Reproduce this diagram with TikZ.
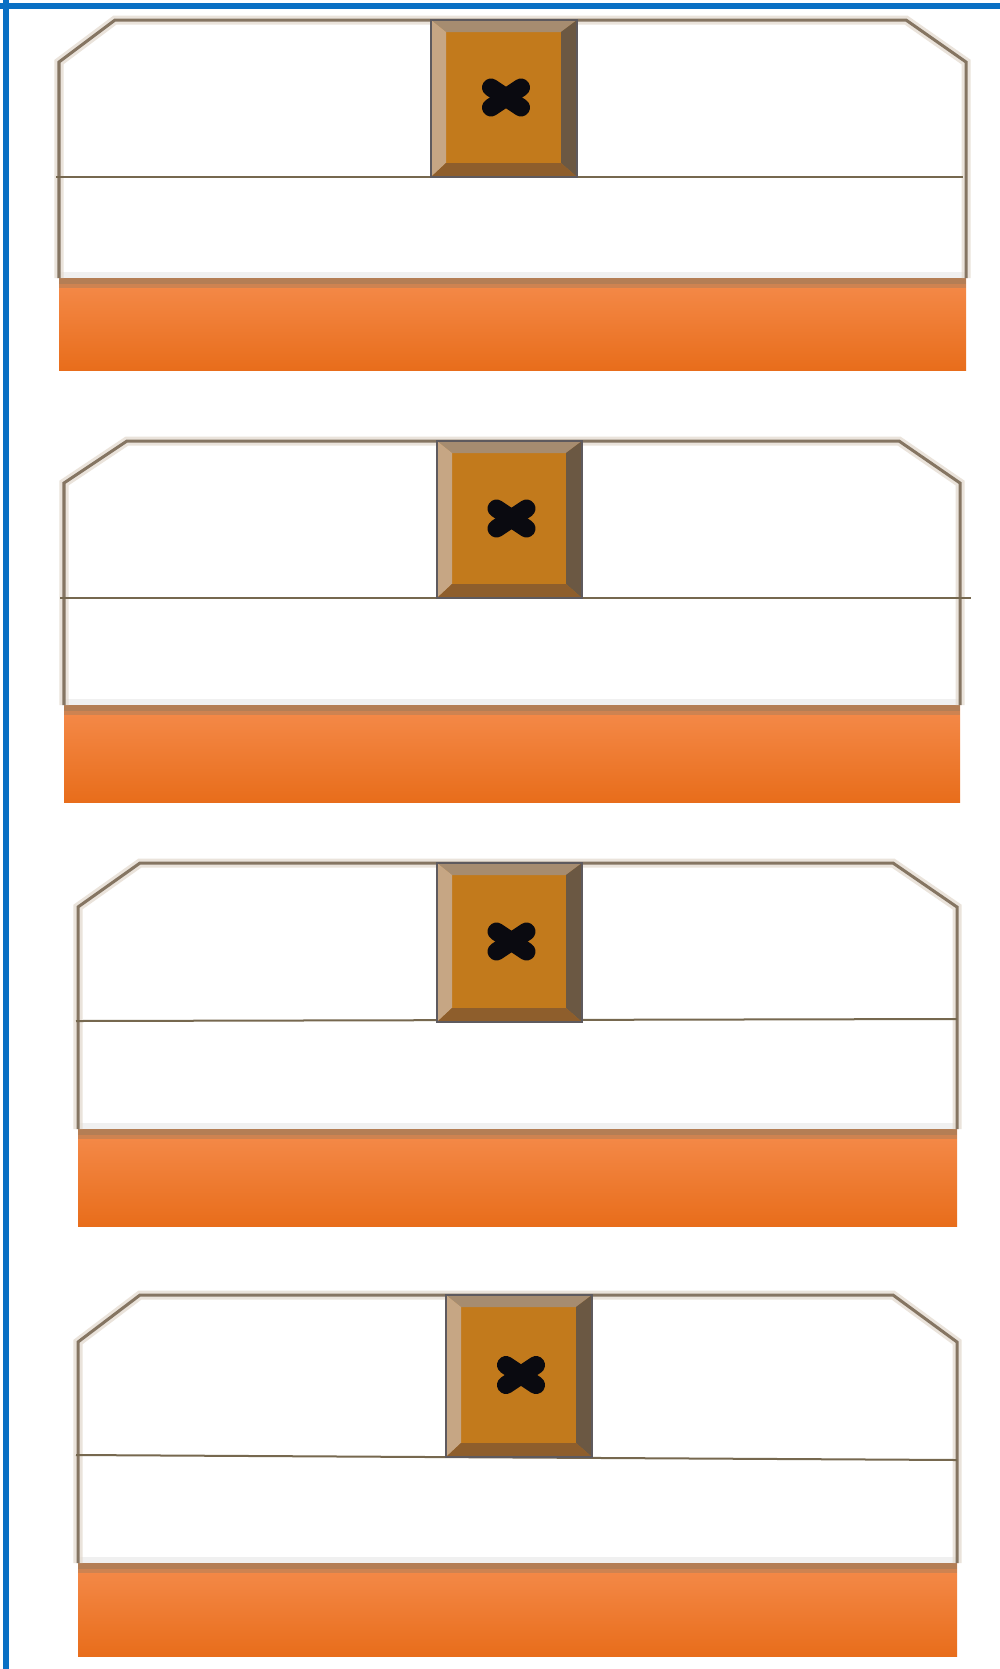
\documentclass[tikz,border=0pt]{standalone}
\definecolor{blueframe}{HTML}{0A70C4}
\definecolor{cardedge}{HTML}{857562}
\definecolor{cardglow}{HTML}{E2D8CC}
\definecolor{midline}{HTML}{76684F}
\definecolor{orangetop}{HTML}{F58B4B}
\definecolor{orangebot}{HTML}{E86D1B}
\definecolor{orangeshade}{HTML}{B47E55}
\definecolor{btnface}{HTML}{C27A1C}
\definecolor{btntop}{HTML}{A68C70}
\definecolor{btnleft}{HTML}{C6A684}
\definecolor{btnright}{HTML}{6B5843}
\definecolor{btnbot}{HTML}{8E5E2C}
\definecolor{btnedge}{HTML}{5E5A5E}
\definecolor{xcolor}{HTML}{0A0A10}
\tikzset{
  cardline/.style={draw=cardedge, line width=3*0.2845pt, line join=miter},
  cardhalo/.style={draw=cardglow, line width=9*0.2845pt, opacity=0.7},
  dividerline/.style={draw=midline, line width=2*0.2845pt},
  xstroke/.style={draw=xcolor, line width=18*0.2845pt, line cap=round},
}
\begin{document}
\begin{tikzpicture}[x=0.01cm,y=-0.01cm]
\useasboundingbox (0,0) rectangle (1000,1669);
\fill[white] (0,0) rectangle (1000,1669);
% blue frame (top and left edges)
\fill[blueframe] (0,3) rectangle (1000,9);
\fill[blueframe] (3,0) rectangle (9,1669);
% cards
\foreach \n/\L/\R/\T/\cL/\cR/\cY/\lnL/\lnR/\lnYl/\lnYr/\oT/\oB/\bA/\bB/\bY in {
  1/59/966/20/115/906/62/56/963/177/177/278/370/431/577/177,
  2/64/960/441/127/899/483/60/971/598/598/705/802/437/582/598,
  3/78/957/863/140/893/907/76/957/1021/1019/1129/1226/437/582/1022,
  4/78/957/1295/140/893/1342/76/957/1455/1460/1563/1656/446/592/1457} {
  % orange base
  \shade[top color=orangetop, bottom color=orangebot] (\L,\oT) rectangle (\R,\oB);
  \fill[orangeshade] (\L,\oT) rectangle (\R,{\oT+6});
  \fill[orangeshade!60!orangetop] (\L,{\oT+6}) rectangle (\R,{\oT+10});
  % faint shadow above orange
  \fill[black!6] (\L,{\oT-6}) rectangle (\R,\oT);
  % card outline
  \draw[cardhalo] (\L,\oT) -- (\L,\cY) -- (\cL,\T) -- (\cR,\T) -- (\R,\cY) -- (\R,\oT);
  \draw[cardline] (\L,\oT) -- (\L,\cY) -- (\cL,\T) -- (\cR,\T) -- (\R,\cY) -- (\R,\oT);
  % divider line
  \draw[dividerline] (\lnL,\lnYl) -- (\lnR,\lnYr);
  % button with bevels
  \fill[btnface] (\bA,\T) rectangle (\bB,\bY);
  \fill[btntop] (\bA,\T) -- (\bB,\T) -- ({\bB-16},{\T+12}) -- ({\bA+15},{\T+12}) -- cycle;
  \fill[btnleft] (\bA,\T) -- ({\bA+15},{\T+12}) -- ({\bA+15},{\bY-14}) -- (\bA,\bY) -- cycle;
  \fill[btnright] (\bB,\T) -- ({\bB-16},{\T+12}) -- ({\bB-16},{\bY-14}) -- (\bB,\bY) -- cycle;
  \fill[btnbot] (\bA,\bY) -- ({\bA+15},{\bY-14}) -- ({\bB-16},{\bY-14}) -- (\bB,\bY) -- cycle;
  \draw[btnedge, line width=1.5*0.2845pt] (\bA,\T) rectangle (\bB,\bY);
  % heavy X mark
  \coordinate (x\n) at ({(\bA+\bB)/2+2},{(\T+\bY)/2-1});
  \draw[xstroke] ([shift={(-15,-10)}]x\n) -- ([shift={(15,10)}]x\n);
  \draw[xstroke] ([shift={(-15,10)}]x\n) -- ([shift={(15,-10)}]x\n);
}
\end{tikzpicture}
\end{document}
